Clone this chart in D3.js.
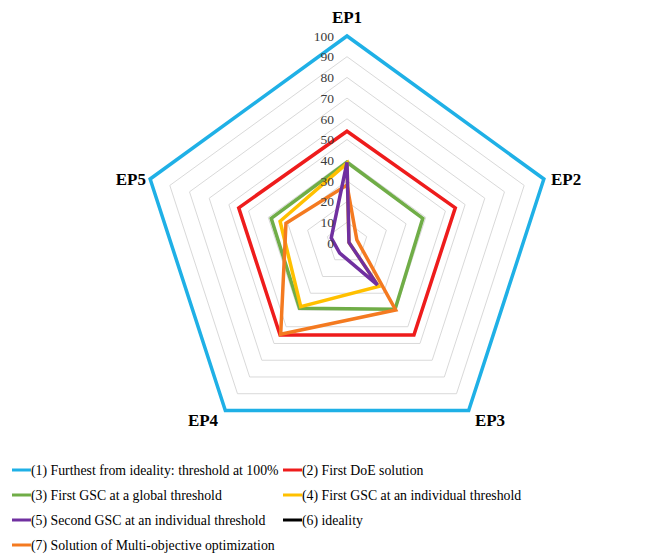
<!DOCTYPE html>
<html lang="en">
<head>
    <meta charset="UTF-8">
    <title>Radar chart</title>
    <style>
        body {
            margin: 0;
            padding: 0;
            background-color: #fff;
        }

        svg text {
            font-family: "Liberation Serif", "Times New Roman", serif;
        }
    </style>
</head>
<body>
<div id="chart"></div>

<script src="https://d3js.org/d3.v7.min.js"></script>
<script>
    const categories = ["EP1", "EP2", "EP3", "EP4", "EP5"];
    const ticks = [0, 10, 20, 30, 40, 50, 60, 70, 80, 90, 100];

    const seriesNames = [
        "(1) Furthest from ideality: threshold at 100%",
        "(2) First DoE solution",
        "(3) First GSC at a global threshold",
        "(4) First GSC at an individual threshold",
        "(5) Second GSC at an individual threshold",
        "(6) ideality",
        "(7) Solution of Multi-objective optimization"
    ];
    const seriesColors = ["#1fb0e6", "#ee1c1c", "#70ad47", "#ffc000", "#7030a0", "#000000", "#f47a20"];

    const furthest = [100, 100, 100, 100, 100];
    const firstDoe = [54, 55, 55, 55, 55];
    const globalGsc = [39, 38.5, 39.5, 39, 38.5];
    const individualGsc = [38.5, 1, 26, 38, 34];
    const secondGsc = [39, 1, 25, 6, 8];
    const ideality = [0, 0, 0, 0, 0];
    const multiObjective = [28, 5, 40, 54.5, 31];

    const seriesValues = [furthest, firstDoe, globalGsc, individualGsc, secondGsc, ideality, multiObjective];

    const width = 651, height = 557;
    const cx = 347, cy = 243, radius = 207;

    const svg = d3.select("#chart").append("svg")
        .attr("width", width)
        .attr("height", height);

    const r = d3.scaleLinear().domain([0, 100]).range([0, radius]);
    const angle = d3.scaleBand().domain(categories).range([0, 2 * Math.PI]).align(0).paddingInner(0).paddingOuter(0);

    function point(cat, v) {
        const a = angle(cat);
        return [cx + r(v) * Math.sin(a), cy - r(v) * Math.cos(a)];
    }

    // grid rings
    svg.append("g")
        .selectAll("polygon")
        .data(ticks.filter(t => t > 0))
        .enter().append("polygon")
        .attr("points", t => categories.map(c => point(c, t).join(",")).join(" "))
        .attr("fill", "none")
        .attr("stroke", "#d9d9d9")
        .attr("stroke-width", 1);

    // series
    const line = d3.line().curve(d3.curveLinearClosed);
    const drawOrder = [0, 1, 2, 3, 5, 6, 4];
    svg.append("g")
        .selectAll("path")
        .data(drawOrder)
        .enter().append("path")
        .attr("d", i => line(categories.map((c, k) => point(c, seriesValues[i][k]))))
        .attr("fill", "none")
        .attr("stroke", i => seriesColors[i])
        .attr("stroke-width", 3.5)
        .attr("stroke-linejoin", "miter");

    // tick labels
    svg.append("g")
        .selectAll("text")
        .data(ticks)
        .enter().append("text")
        .attr("x", cx - 13)
        .attr("y", t => cy - r(t))
        .attr("dy", "0.35em")
        .attr("text-anchor", "end")
        .attr("font-size", 13.5)
        .attr("fill", "#3a3a3a")
        .text(t => t);

    // category labels
    const labelPos = {
        EP1: [347, 23, "middle"],
        EP2: [551, 185, "start"],
        EP3: [490, 426, "middle"],
        EP4: [203, 426, "middle"],
        EP5: [146, 185, "end"]
    };
    svg.append("g")
        .selectAll("text")
        .data(categories)
        .enter().append("text")
        .attr("x", c => labelPos[c][0])
        .attr("y", c => labelPos[c][1])
        .attr("text-anchor", c => labelPos[c][2])
        .attr("font-size", 17)
        .attr("font-weight", "bold")
        .attr("fill", "#000")
        .text(c => c);

    // legend
    const legendItems = [
        {i: 0, x: 12, y: 470}, {i: 1, x: 283, y: 470},
        {i: 2, x: 12, y: 495}, {i: 3, x: 283, y: 495},
        {i: 4, x: 12, y: 520}, {i: 5, x: 283, y: 520},
        {i: 6, x: 12, y: 545}
    ];
    const legend = svg.append("g")
        .selectAll("g")
        .data(legendItems)
        .enter().append("g")
        .attr("transform", d => "translate(" + d.x + "," + d.y + ")");

    legend.append("line")
        .attr("x1", 0).attr("x2", 19)
        .attr("y1", 0).attr("y2", 0)
        .attr("stroke", d => seriesColors[d.i])
        .attr("stroke-width", 3);

    legend.append("text")
        .attr("x", 19)
        .attr("dy", "0.35em")
        .attr("font-size", 13.8)
        .attr("fill", "#000")
        .text(d => seriesNames[d.i]);
</script>
</body>
</html>
